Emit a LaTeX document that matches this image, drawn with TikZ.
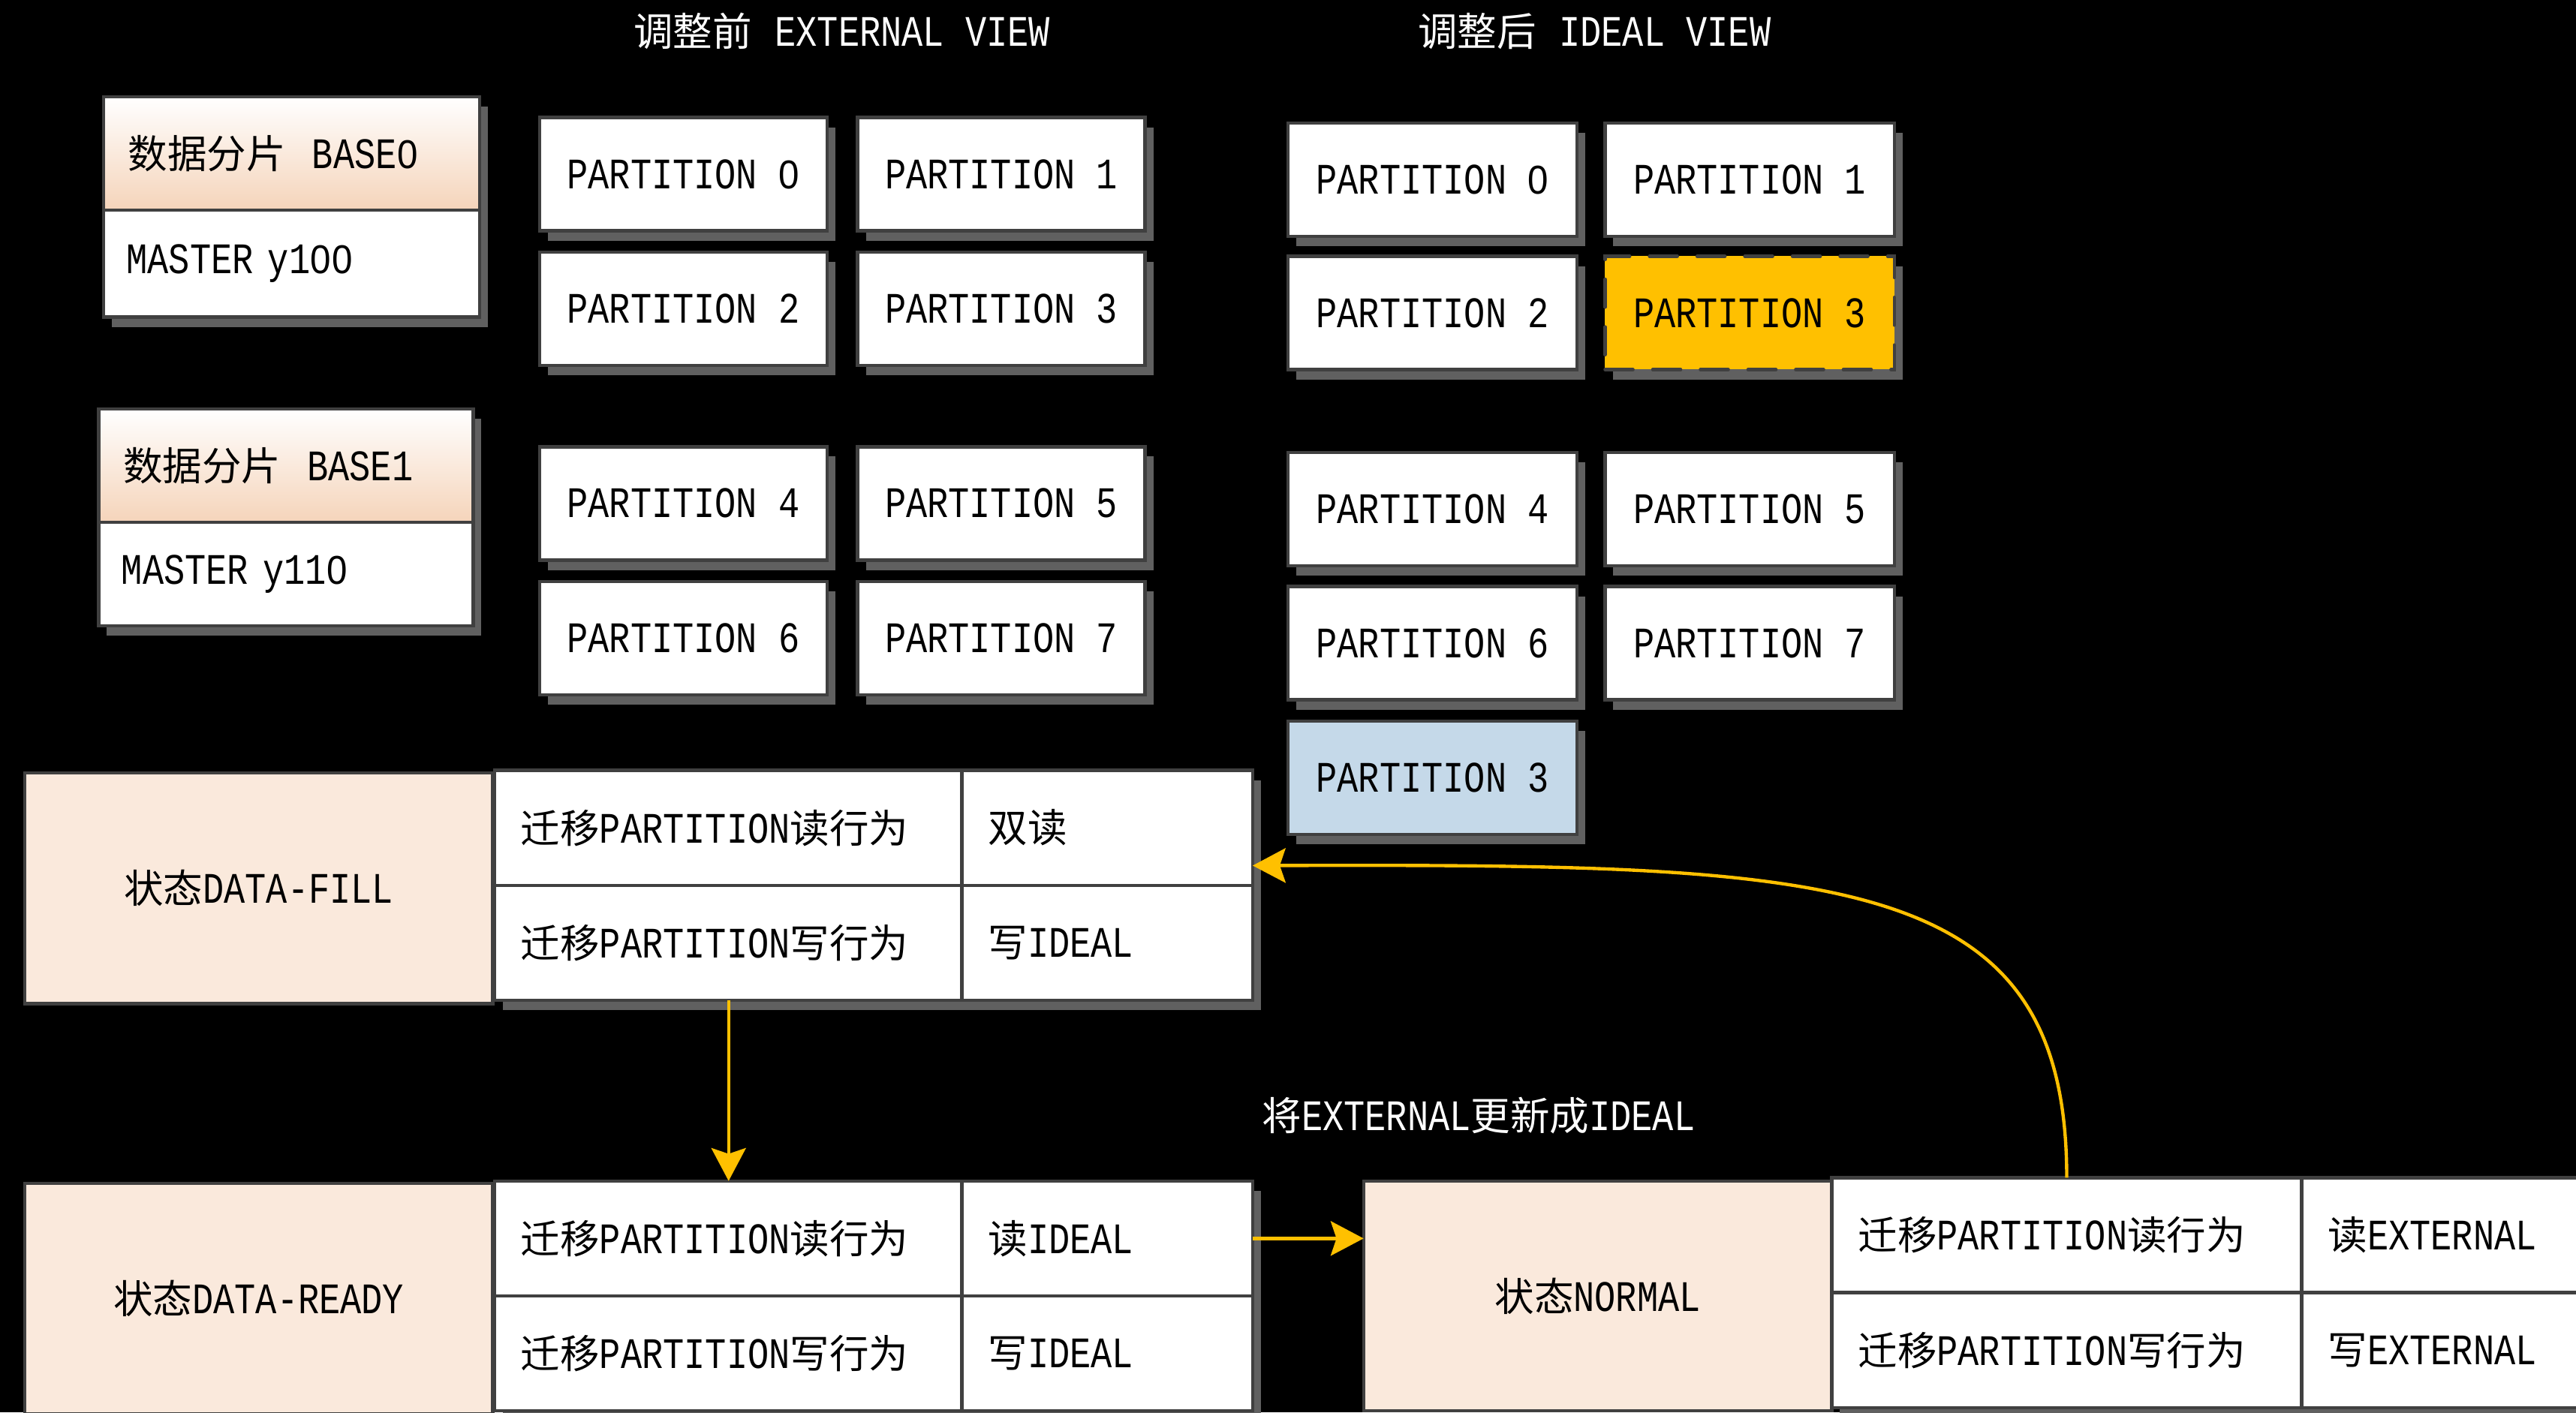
\documentclass[tikz,border=0pt]{standalone}
\usepackage{fontspec}
\setmainfont[FakeStretch=0.81]{Liberation Mono}
\newfontfamily\cjk{Noto Sans CJK SC}
\newfontfamily\digitfont[FakeStretch=0.92]{Liberation Sans}
\newcommand{\zh}[1]{{\cjk\fontsize{24}{28}\selectfont #1}}
% plain (unslashed) zero, same advance as the monospaced digits
\newcommand{\zro}{\makebox[12.9pt]{\digitfont\fontsize{24.5}{30}\selectfont 0}}
\usetikzlibrary{shadows,arrows.meta}
\definecolor{bordc}{RGB}{64,64,64}
\definecolor{shadc}{RGB}{96,96,96}
\definecolor{peach}{RGB}{245,212,186}
\definecolor{statec}{RGB}{250,233,220}
\definecolor{gold}{RGB}{255,192,0}
\definecolor{paleblue}{RGB}{197,217,233}

\begin{document}
\begin{tikzpicture}[x=1pt,y=-1pt,
  every node/.style={inner sep=0pt, outer sep=0pt, font=\fontsize{26.5}{30}\selectfont},
  sh/.style={drop shadow={shadow xshift=5pt, shadow yshift=-6pt, fill=shadc, opacity=1}},
  cell/.style={draw=bordc, line width=2pt, fill=white, rectangle},
  part/.style={cell, sh, minimum width=175pt, minimum height=69pt},
  hdr/.style={draw=bordc, line width=2pt, top color=white, bottom color=peach, sh, align=left},
  body/.style={cell, sh, align=left},
  state/.style={draw=bordc, line width=2pt, fill=statec, minimum width=285pt, minimum height=140pt},
  wide/.style={cell, sh, minimum height=70pt, text width=253pt, inner xsep=16pt, align=left},
  narrow/.style={cell, sh, minimum height=70pt, text width=145pt, inner xsep=16pt, align=left},
  title/.style={text=white},
  flow/.style={draw=gold, line width=2pt, -{Stealth[length=20pt,width=21pt,inset=3.5pt]}}
]
% page and background
\useasboundingbox (0,0) rectangle (1568,860);
\fill[black] (0,0) rectangle (1568,860);
\clip (0,0) rectangle (1568,860);

% column titles
\node[title] (t1) at (512.5,19) {\zh{调整前}\hspace{14pt}EXTERNAL VIEW};
\node[title] (t2) at (970.5,19) {\zh{调整后}\hspace{14pt}IDEAL VIEW};

% data shard 0
\node[hdr, minimum width=229pt, minimum height=69pt, text width=199pt, inner xsep=15pt] (b0h) at (177.5,93.5) {\zh{数据分片}\hspace{16pt}BASE\zro};
\node[body, minimum width=229pt, minimum height=65pt, text width=201pt, inner xsep=14pt] (b0b) at (177.5,160.5) {MASTER y1\zro\zro};
% data shard 1
\node[hdr, minimum width=228pt, minimum height=69pt, text width=198pt, inner xsep=15pt] (b1h) at (174,283.5) {\zh{数据分片}\hspace{16pt}BASE1};
\node[body, minimum width=228pt, minimum height=63pt, text width=200pt, inner xsep=14pt] (b1b) at (174,349.5) {MASTER y11\zro};

% external view partitions
\node[part] (e0) at (416,106) {PARTITION \zro};
\node[part] (e1) at (609.5,106) {PARTITION 1};
\node[part] (e2) at (416,188) {PARTITION 2};
\node[part] (e3) at (609.5,188) {PARTITION 3};
\node[part] (e4) at (416,306.5) {PARTITION 4};
\node[part] (e5) at (609.5,306.5) {PARTITION 5};
\node[part] (e6) at (416,388.5) {PARTITION 6};
\node[part] (e7) at (609.5,388.5) {PARTITION 7};

% ideal view partitions
\node[part, minimum width=176pt] (i0) at (872,109.5) {PARTITION \zro};
\node[part, minimum width=176pt] (i1) at (1065,109.5) {PARTITION 1};
\node[part, minimum width=176pt] (i2) at (872,190.5) {PARTITION 2};
\node[part, minimum width=176pt, fill=gold, dashed, dash pattern=on 17pt off 12pt, line cap=round] (i3) at (1065,190.5) {PARTITION 3};
\node[part, minimum width=176pt] (i4) at (872,310) {PARTITION 4};
\node[part, minimum width=176pt] (i5) at (1065,310) {PARTITION 5};
\node[part, minimum width=176pt] (i6) at (872,391.5) {PARTITION 6};
\node[part, minimum width=176pt] (i7) at (1065,391.5) {PARTITION 7};
\node[part, minimum width=176pt, fill=paleblue] (i3m) at (872,473.5) {PARTITION 3};

% state DATA-FILL
\node[state, minimum height=140.5pt] (fill) at (157.5,540.75) {\zh{状态}DATA-FILL};
\node[wide] (f11) at (443.5,504) {\zh{迁移}PARTITION\zh{读行为}};
\node[narrow] (f12) at (674,504) {\zh{双读}};
\node[wide] (f21) at (443.5,574) {\zh{迁移}PARTITION\zh{写行为}};
\node[narrow] (f22) at (674,574) {\zh{写}IDEAL};

% state DATA-READY
\node[state, minimum height=140.5pt] (ready) at (157.5,790.75) {\zh{状态}DATA-READY};
\node[wide] (r11) at (443.5,754) {\zh{迁移}PARTITION\zh{读行为}};
\node[narrow] (r12) at (674,754) {\zh{读}IDEAL};
\node[wide] (r21) at (443.5,824) {\zh{迁移}PARTITION\zh{写行为}};
\node[narrow] (r22) at (674,824) {\zh{写}IDEAL};

% state NORMAL
\node[state] (normal) at (972.5,789) {\zh{状态}NORMAL};
\node[wide, text width=254pt] (n11) at (1258,752) {\zh{迁移}PARTITION\zh{读行为}};
\node[narrow] (n12) at (1489.5,752) {\zh{读}EXTERNAL};
\node[wide, text width=254pt] (n21) at (1258,822) {\zh{迁移}PARTITION\zh{写行为}};
\node[narrow] (n22) at (1489.5,822) {\zh{写}EXTERNAL};

\node[title] (upd) at (900,679) {\zh{将}EXTERNAL\zh{更新成}IDEAL};

% transitions
\draw[flow] (f21.south) -- (r11.north);
\draw[flow] (r12.east) -- (r12.east -| normal.west);
\draw[flow] (n11.north) .. controls (1258,530) and (1120,526) .. ([yshift=12pt]f12.south east);
\end{tikzpicture}
\end{document}
